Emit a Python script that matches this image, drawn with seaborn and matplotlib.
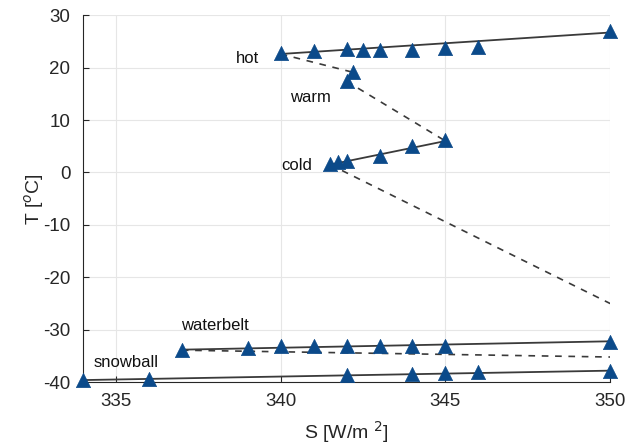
import numpy as np
import pandas as pd
import matplotlib
matplotlib.use("Agg")
import matplotlib.pyplot as plt
import seaborn as sns

# stable branches (markers)
hot_S = [340, 341, 342, 342.5, 343, 344, 345, 346, 350]
hot_T = [22.7, 23.2, 23.6, 23.3, 23.3, 23.3, 23.8, 23.9, 26.9]
warm_S = [342.2, 342.0]
warm_T = [19.1, 17.4]
cold_S = [341.5, 341.75, 342, 343, 344, 345]
cold_T = [1.6, 2.0, 2.2, 3.2, 5.1, 6.1]
waterbelt_S = [337, 339, 340, 341, 342, 343, 344, 345, 350]
waterbelt_T = [-33.9, -33.5, -33.1, -33.1, -33.1, -33.1, -33.1, -33.1, -32.3]
snowball_S = [334, 336, 342, 344, 345, 346, 350]
snowball_T = [-39.6, -39.4, -38.7, -38.4, -38.3, -38.1, -37.9]

# solid fitted lines
solid_lines = {
    "hot": ([340, 350], [22.6, 26.7]),
    "warm": ([342.2, 342.0], [19.1, 17.4]),
    "cold": ([341.5, 345], [1.5, 6.0]),
    "waterbelt": ([337, 350], [-33.8, -32.2]),
    "snowball": ([334, 350], [-39.6, -37.8]),
}
# unstable branches (dashed)
dashed_lines = [
    ([340, 342.2], [22.6, 19.1]),
    ([342.0, 345], [17.4, 6.0]),
    ([341.5, 350], [1.5, -25.0]),
    ([337, 350], [-33.9, -35.2]),
]

labels = ["hot", "warm", "cold", "waterbelt", "snowball"]
label_S = [339.0, 340.9, 340.5, 338.0, 335.3]
label_T = [21.8, 14.3, 1.3, -29.2, -36.3]

sns.set_style("whitegrid", {"grid.color": "#e6e6e6", "axes.edgecolor": "#333333"})
plt.rcParams['font.family'] = ['Liberation Sans', 'DejaVu Sans']
plt.rcParams['axes.unicode_minus'] = False

fig = plt.figure(figsize=(6.33, 4.47), dpi=100)
ax = fig.add_axes([0.131, 0.145, 0.833, 0.821])

line_col = "#3a3a3a"
for xs, ys in solid_lines.values():
    sns.lineplot(x=xs, y=ys, ax=ax, color=line_col, linewidth=1.3, sort=False)
for xs, ys in dashed_lines:
    sns.lineplot(x=xs, y=ys, ax=ax, color=line_col, linewidth=1.2, sort=False,
                 linestyle=(0, (4, 4)))

pts = pd.DataFrame({
    "S": hot_S + warm_S + cold_S + waterbelt_S + snowball_S,
    "T": hot_T + warm_T + cold_T + waterbelt_T + snowball_T,
})
sns.scatterplot(data=pts, x="S", y="T", ax=ax, marker="^", s=105,
                color="#0b4a8a", edgecolor="#0b4a8a", linewidth=0.5, zorder=5,
                clip_on=False)

for lab, sx, ty in zip(labels, label_S, label_T):
    ax.text(sx, ty, lab, fontsize=12, ha="center", va="center", color="#111111")

ax.set_xlim(334, 350)
ax.set_ylim(-40, 30)
ax.set_xticks([335, 340, 345, 350])
ax.set_yticks(range(-40, 31, 10))
ax.tick_params(labelsize=13.5, colors="#262626", direction="in", length=4)
ax.tick_params(axis="both", which="both", left=True, bottom=True)
ax.tick_params(axis="y", pad=9)
ax.tick_params(axis="x", pad=8)
for side in ["top", "right"]:
    ax.spines[side].set_visible(False)
for side in ["left", "bottom"]:
    ax.spines[side].set_color("#262626")
    ax.spines[side].set_linewidth(0.8)
ax.set_xlabel("S [W/m $^{2}$]", fontsize=14, color="#262626", labelpad=6)
ax.set_ylabel("T [$^{o}$C]", fontsize=14, color="#262626", labelpad=-2)

fig.savefig("out.png", dpi=100)
